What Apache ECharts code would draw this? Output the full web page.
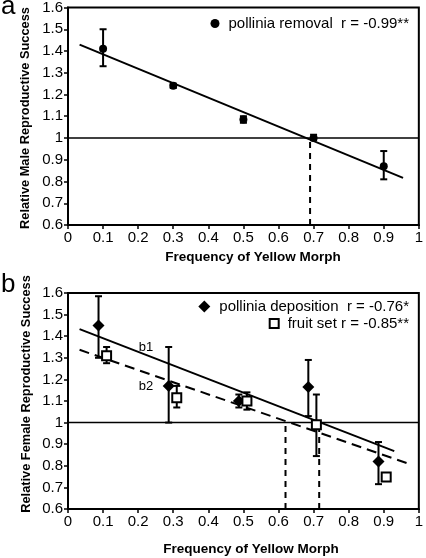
<!DOCTYPE html>
<html>
<head>
<meta charset="utf-8">
<script src="https://cdn.jsdelivr.net/npm/echarts@6/dist/echarts.min.js"></script>
<style>
html,body{margin:0;padding:0;background:#fff;}
#c{width:426px;height:558px;}
</style>
</head>
<body>
<div id="c"></div>
<script>
// ---- Data ----
// Panel a: pollinia removal (male)
const aX = [0.1, 0.3, 0.5, 0.7, 0.9];
const aY = [1.41, 1.24, 1.085, 1.0, 0.87];
const aLo = [1.33, 1.23, 1.07, 0.99, 0.81];
const aHi = [1.50, 1.25, 1.10, 1.015, 0.94];
const aFit = [[0.033, 1.429], [0.955, 0.817]];
const aCross = 0.69;

// Panel b: pollinia deposition (female, diamonds)
const dX = [0.087, 0.287, 0.487, 0.685, 0.885];
const dY = [1.45, 1.17, 1.10, 1.165, 0.82];
const dLo = [1.30, 1.00, 1.07, 1.03, 0.715];
const dHi = [1.585, 1.35, 1.13, 1.29, 0.91];
// fruit set (squares)
const fX = [0.11, 0.31, 0.51, 0.708, 0.907];
const fY = [1.31, 1.115, 1.10, 0.99, 0.748];
const fLo = [1.275, 1.07, 1.06, 0.845, 0.74];
const fHi = [1.35, 1.17, 1.14, 1.13, 0.755];
const b1Fit = [[0.033, 1.433], [0.93, 0.868]];
const b2Fit = [[0.033, 1.337], [0.967, 0.812]];
const b1Cross = 0.716;
const b2Cross = 0.62;

const xTicks = {min: 0, max: 1, interval: 0.1};
const yTicks = {min: 0.6, max: 1.6, interval: 0.1};

const nameA = 'pollinia removal  r = -0.99**';
const nameD = 'pollinia deposition  r = -0.76*';
const nameF = 'fruit set r = -0.85**';

// ---- Chart ----
const FONT = '"Liberation Sans", Arial, Helvetica, sans-serif';
const chart = echarts.init(document.getElementById('c'));

function zip(xs, ys) { return xs.map((x, i) => [x, ys[i]]); }
function errData(xs, lo, hi) { return xs.map((x, i) => [x, lo[i], hi[i]]); }

function errSeries(data, gi) {
  return {
    type: 'custom', xAxisIndex: gi, yAxisIndex: gi, z: 3,
    data: data,
    renderItem: function (params, api) {
      const x = api.value(0);
      const p1 = api.coord([x, api.value(1)]);
      const p2 = api.coord([x, api.value(2)]);
      const w = 3.5;
      const st = {stroke: '#000', lineWidth: 2};
      return {
        type: 'group',
        children: [
          {type: 'line', shape: {x1: p1[0], y1: p1[1], x2: p2[0], y2: p2[1]}, style: st},
          {type: 'line', shape: {x1: p1[0] - w, y1: p1[1], x2: p1[0] + w, y2: p1[1]}, style: st},
          {type: 'line', shape: {x1: p2[0] - w, y1: p2[1], x2: p2[0] + w, y2: p2[1]}, style: st}
        ]
      };
    }
  };
}

function lineSeries(data, gi, opts) {
  return Object.assign({
    type: 'line', xAxisIndex: gi, yAxisIndex: gi, data: data,
    symbol: 'none', silent: true, z: 2,
    lineStyle: {color: '#000', width: 2}
  }, opts || {});
}

function xAxis(gi) {
  return Object.assign({
    type: 'value', gridIndex: gi,
    axisLine: {lineStyle: {color: '#000', width: 2}},
    axisTick: {show: true, inside: false, length: 4, lineStyle: {color: '#000', width: 1.5}},
    axisLabel: {color: '#000', fontSize: 15, fontFamily: FONT, margin: 5},
    splitLine: {show: false}
  }, xTicks);
}
function yAxis(gi) {
  return Object.assign({
    type: 'value', gridIndex: gi,
    axisLine: {show: true, lineStyle: {color: '#000', width: 2}},
    axisTick: {show: true, inside: false, length: 4, lineStyle: {color: '#000', width: 1.5}},
    axisLabel: {color: '#000', fontSize: 15, fontFamily: FONT, margin: 5},
    splitLine: {show: false}
  }, yTicks);
}

const legText = {color: '#000', fontSize: 15, fontFamily: FONT, padding: [0, 0, 0, 4]};

const option = {
  animation: false,
  backgroundColor: '#fff',
  grid: [
    {left: 68, right: 2, top: 6, height: 219, show: true, borderColor: '#000', borderWidth: 2},
    {left: 68, right: 2, top: 293, height: 216, show: true, borderColor: '#000', borderWidth: 2}
  ],
  xAxis: [xAxis(0), xAxis(1)],
  yAxis: [yAxis(0), yAxis(1)],
  legend: [
    {data: [nameA], right: 12, top: 11, itemWidth: 9, itemHeight: 9, textStyle: legText},
    {data: [nameD], right: 12, top: 294, itemWidth: 12, itemHeight: 12, textStyle: legText},
    {data: [nameF], right: 12, top: 311, itemWidth: 9, itemHeight: 9, textStyle: legText}
  ],
  series: [
    // panel a
    lineSeries([[xTicks.min, 1], [xTicks.max, 1]], 0, {lineStyle: {color: '#000', width: 1.5}}),
    lineSeries([[aCross, yTicks.min], [aCross, 1]], 0, {lineStyle: {color: '#000', width: 2, type: [6, 5]}}),
    lineSeries(aFit, 0),
    errSeries(errData(aX, aLo, aHi), 0),
    {name: nameA, type: 'scatter', xAxisIndex: 0, yAxisIndex: 0, z: 4,
     data: zip(aX, aY), symbol: 'circle', symbolSize: 8,
     itemStyle: {color: '#000', opacity: 1}},
    // panel b
    lineSeries([[xTicks.min, 1], [xTicks.max, 1]], 1, {lineStyle: {color: '#000', width: 1.5}}),
    lineSeries([[b1Cross, yTicks.min], [b1Cross, 1]], 1, {lineStyle: {color: '#000', width: 2, type: [6, 5]}}),
    lineSeries([[b2Cross, yTicks.min], [b2Cross, 1]], 1, {lineStyle: {color: '#000', width: 2, type: [6, 5]}}),
    lineSeries(b1Fit, 1),
    lineSeries(b2Fit, 1, {lineStyle: {color: '#000', width: 2, type: [10, 6]}}),
    errSeries(errData(dX, dLo, dHi), 1),
    errSeries(errData(fX, fLo, fHi), 1),
    {name: nameD, type: 'scatter', xAxisIndex: 1, yAxisIndex: 1, z: 4,
     data: zip(dX, dY), symbol: 'diamond', symbolSize: 12,
     itemStyle: {color: '#000', opacity: 1}},
    {name: nameF, type: 'scatter', xAxisIndex: 1, yAxisIndex: 1, z: 5,
     data: zip(fX, fY), symbol: 'rect', symbolSize: 9,
     itemStyle: {color: '#fff', borderColor: '#000', borderWidth: 2, opacity: 1}}
  ],
  graphic: [
    {type: 'text', left: 1, top: -6, style: {text: 'a', fill: '#000', font: '26px ' + FONT}},
    {type: 'text', left: 1, top: 272, style: {text: 'b', fill: '#000', font: '26px ' + FONT}},
    {type: 'text', x: 253, y: 257, style: {text: 'Frequency of Yellow Morph', fill: '#000', font: 'bold 13.5px ' + FONT, align: 'center', verticalAlign: 'middle'}},
    {type: 'text', x: 251, y: 549, style: {text: 'Frequency of Yellow Morph', fill: '#000', font: 'bold 13.5px ' + FONT, align: 'center', verticalAlign: 'middle'}},
    {type: 'text', x: 25, y: 118, rotation: Math.PI / 2, style: {text: 'Relative Male Reproductive Success', fill: '#000', font: 'bold 12.8px ' + FONT, align: 'center', verticalAlign: 'middle'}},
    {type: 'text', x: 26, y: 394, rotation: Math.PI / 2, style: {text: 'Relative Female Reproductive Success', fill: '#000', font: 'bold 12.8px ' + FONT, align: 'center', verticalAlign: 'middle'}},
    {type: 'text', x: 146, y: 347, style: {text: 'b1', fill: '#000', font: '13px ' + FONT, align: 'center', verticalAlign: 'middle'}},
    {type: 'text', x: 146, y: 386, style: {text: 'b2', fill: '#000', font: '13px ' + FONT, align: 'center', verticalAlign: 'middle'}}
  ]
};
chart.setOption(option);
</script>
</body>
</html>
